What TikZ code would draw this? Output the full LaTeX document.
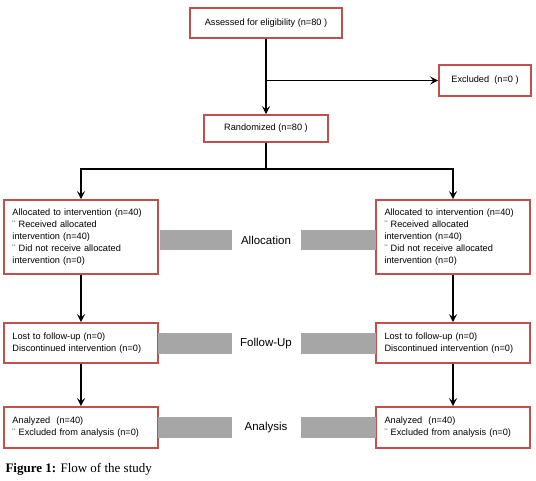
\documentclass[tikz,border=0pt]{standalone}
\usepackage{fontspec}
\setmainfont{Liberation Sans}
\newfontfamily\capfont{Liberation Serif}
\usetikzlibrary{arrows.meta}
\definecolor{boxred}{RGB}{192,80,77}
\definecolor{bargray}{RGB}{166,166,166}

\begin{document}
\begin{tikzpicture}[x=1pt,y=-1pt]
        \tikzstyle{box}=[draw=boxred, line width=1.6pt, fill=white, font=\fontsize{9.2}{12}\selectfont, inner sep=0pt]
        \tikzstyle{info}=[box, minimum width=154pt, text width=137pt, align=left]
        \tikzstyle{bar}=[fill=bargray, inner sep=0pt, minimum height=21pt]
        \tikzstyle{stage}=[font=\fontsize{11.5}{13}\selectfont]
        \tikzstyle{arr}=[line width=1.6pt, -{Stealth[length=8pt,width=8pt,inset=3pt]}]

        \useasboundingbox (0,0) rectangle (536,480);

        % top part
        \node[box, minimum width=152pt, minimum height=30pt] (ass) at (266,23) {Assessed for eligibility (n=80 )};
        \node[box, minimum width=92pt, minimum height=31pt] (excl) at (485,80.5) {Excluded\ \ (n=0 )};
        \node[box, minimum width=124pt, minimum height=27pt] (rand) at (266,128.5) {Randomized (n=80 )};
        \coordinate (split) at (266,169);

        % allocation
        \node[info, minimum height=74pt] (allocL) at (81,237) {Allocated to intervention (n=40)\\ ¨ Received allocated\\ intervention (n=40)\\ ¨ Did not receive allocated\\ intervention (n=0)};
        \node[info, minimum height=74pt] (allocR) at (453,237) {Allocated to intervention (n=40)\\ ¨ Received allocated\\ intervention (n=40)\\ ¨ Did not receive allocated\\ intervention (n=0)};

        % follow-up
        \node[info, minimum height=40pt] (lostL) at (81,343) {Lost to follow-up (n=0)\\ Discontinued intervention (n=0)};
        \node[info, minimum height=40pt] (lostR) at (453,343) {Lost to follow-up (n=0)\\ Discontinued intervention (n=0)};

        % analysis
        \node[info, minimum height=41pt] (anaL) at (81,427.5) {Analyzed\ \ (n=40)\\ ¨ Excluded from analysis (n=0)};
        \node[info, minimum height=41pt] (anaR) at (453,427.5) {Analyzed\ \ (n=40)\\ ¨ Excluded from analysis (n=0)};

        % stage bars and labels
        \node[bar, minimum width=72pt, minimum height=20pt] (allocbarL) at (196,240) {};
        \node[bar, minimum width=75pt, minimum height=20pt] (allocbarR) at (338.5,240) {};
        \node[stage] (allocation) at (266,240) {Allocation};
        \node[bar, minimum width=74pt] (lostbarL) at (195,343.5) {};
        \node[bar, minimum width=75pt] (lostbarR) at (338.5,343.5) {};
        \node[stage] (followup) at (266,344) {Follow-Up};
        \node[bar, minimum width=74pt] (anabarL) at (195,427) {};
        \node[bar, minimum width=75pt] (anabarR) at (338.5,427) {};
        \node[stage] (analysis) at (266,428) {Analysis};

        \node[anchor=west, font=\capfont\fontsize{13}{15}\selectfont] (cap) at (2,469) {\textbf{Figure 1:} Flow of the study};

        \draw[arr] (ass) -- (rand);
        \draw[arr] (ass.south |- excl.west) -- (excl.west);
        \draw[line width=1.6pt] (rand) -- (split);
        \draw[arr] (split) -| (allocL);
        \draw[arr] (split) -| (allocR);
        \draw[arr] (allocL) -- (lostL);
        \draw[arr] (allocR) -- (lostR);
        \draw[arr] (lostL) -- (anaL);
        \draw[arr] (lostR) -- (anaR);
    \end{tikzpicture}
\end{document}
